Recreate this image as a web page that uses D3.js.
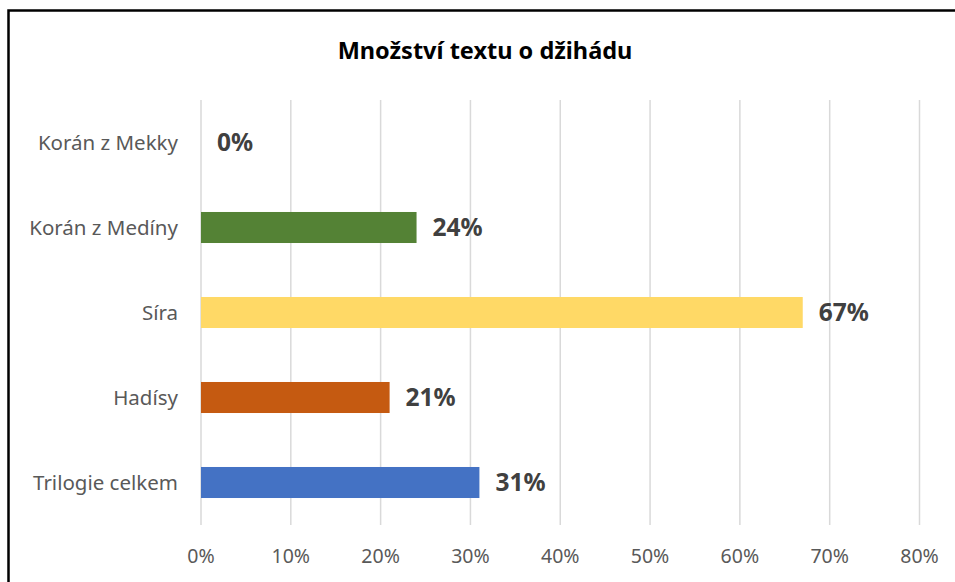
<html lang="cs">
<head>
  <meta charset="UTF-8">
  <title>Množství textu o džihádu</title>
  <script src="https://d3js.org/d3.v7.min.js"></script>
  <style>
    body { margin: 0; background: #fff; }
    text { font-family: "Noto Sans", "Open Sans", sans-serif; }
  </style>
</head>
<body>
  <svg id="chart" width="955" height="582"></svg>
  <script>
    const categories = ["Korán z Mekky", "Korán z Medíny", "Síra", "Hadísy", "Trilogie celkem"];
    const values = [0, 0.24, 0.67, 0.21, 0.31];
    const colors = ["#4472C4", "#548235", "#FFD966", "#C55A11", "#4472C4"];
    const ticks = [0, 0.1, 0.2, 0.3, 0.4, 0.5, 0.6, 0.7, 0.8];

    const svg = d3.select("#chart");

    // outer frame (right and bottom edges fall outside the picture)
    svg.append("rect")
      .attr("x", 8.5).attr("y", 10.5)
      .attr("width", 960).attr("height", 590)
      .attr("fill", "none")
      .attr("stroke", "#000")
      .attr("stroke-width", 2.5);

    svg.append("text")
      .attr("x", 485).attr("y", 59)
      .attr("text-anchor", "middle")
      .attr("font-size", 23.5)
      .attr("font-weight", "bold")
      .attr("fill", "#000")
      .text("Množství textu o džihádu");

    const x = d3.scaleLinear().domain([0, 0.8]).range([201, 919.5]);
    const y = d3.scaleBand().domain(categories).range([100, 525]).paddingInner(0.635).paddingOuter(0.3175);

    // gridlines
    svg.append("g").selectAll("line").data(ticks)
      .join("line")
      .attr("x1", d => x(d)).attr("x2", d => x(d))
      .attr("y1", 100).attr("y2", 525)
      .attr("stroke", "#d9d9d9")
      .attr("stroke-width", 1.5);

    // x tick labels
    svg.append("g").selectAll("text").data(ticks)
      .join("text")
      .attr("x", d => x(d)).attr("y", 563)
      .attr("text-anchor", "middle")
      .attr("font-size", 19.5)
      .attr("fill", "#595959")
      .text(d => d3.format(".0%")(d));

    // category labels
    svg.append("g").selectAll("text").data(categories)
      .join("text")
      .attr("x", 178).attr("y", d => y(d) + y.bandwidth() / 2 + 7)
      .attr("text-anchor", "end")
      .attr("font-size", 20.5)
      .attr("fill", "#595959")
      .text(d => d);

    // bars
    svg.append("g").selectAll("rect").data(categories)
      .join("rect")
      .attr("x", x(0))
      .attr("y", d => y(d))
      .attr("width", (d, i) => x(values[i]) - x(0))
      .attr("height", y.bandwidth())
      .attr("fill", (d, i) => colors[i]);

    // data labels
    svg.append("g").selectAll("text").data(categories)
      .join("text")
      .attr("x", (d, i) => x(values[i]) + 16)
      .attr("y", d => y(d) + y.bandwidth() / 2 + 8.5)
      .attr("font-size", 24.5)
      .attr("font-weight", "bold")
      .attr("fill", "#404040")
      .text((d, i) => d3.format(".0%")(values[i]));
  </script>
</body>
</html>
